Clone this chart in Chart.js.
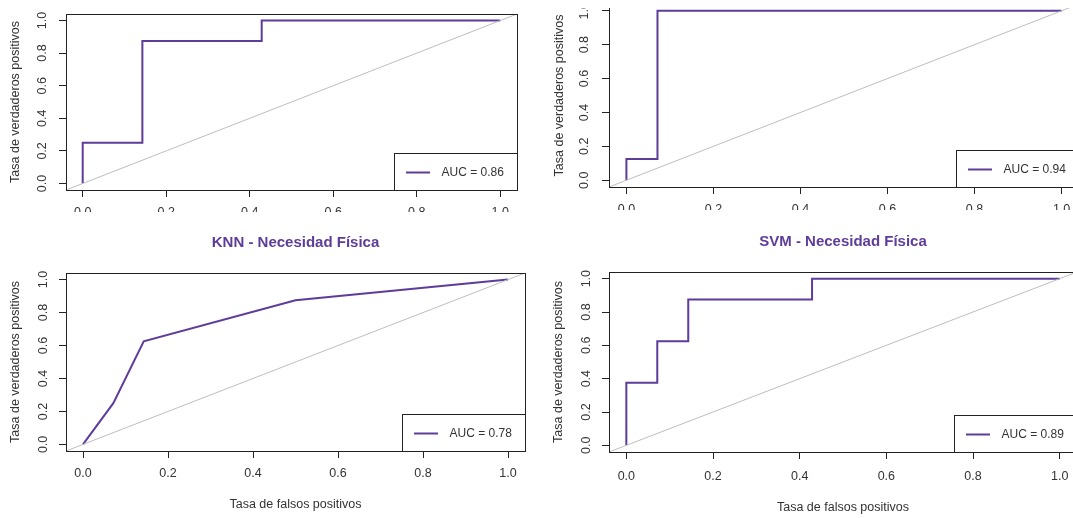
<!DOCTYPE html>
<html>
<head>
<meta charset="utf-8">
<script src="https://cdn.jsdelivr.net/npm/chart.js@4.4.1/dist/chart.umd.min.js"></script>
<style>
  html, body { margin: 0; padding: 0; background: #fff; }
  body { width: 1073px; height: 518px; position: relative; overflow: hidden; }
  .panel { position: absolute; overflow: hidden; }
  .panel canvas { position: absolute; }
</style>
</head>
<body>
<div class="panel"><canvas id="rocTL"></canvas></div>
<div class="panel"><canvas id="rocTR"></canvas></div>
<div class="panel"><canvas id="rocKNN"></canvas></div>
<div class="panel"><canvas id="rocSVM"></canvas></div>
<script>
// ROC curves (false positive rate / true positive rate)
const tlFpr = [0, 0, 0.1429, 0.1429, 0.4286, 0.4286, 1];
const tlTpr = [0, 0.25, 0.25, 0.875, 0.875, 1, 1];
const trFpr = [0, 0, 0.0714, 0.0714, 1];
const trTpr = [0, 0.125, 0.125, 1, 1];
const knnFpr = [0, 0.0714, 0.1429, 0.5, 1];
const knnTpr = [0, 0.25, 0.625, 0.875, 1];
const svmFpr = [0, 0, 0.0714, 0.0714, 0.1429, 0.1429, 0.4286, 0.4286, 1];
const svmTpr = [0, 0.375, 0.375, 0.625, 0.625, 0.875, 0.875, 1, 1];

// reference line y = x
const diagX = [-1, 2];
const diagY = [-1, 2];

const aucLabels = ['AUC = 0.86', 'AUC = 0.94', 'AUC = 0.78', 'AUC = 0.89'];
const tickValues = [0, 0.2, 0.4, 0.6, 0.8, 1];
const tickLabels = ['0.0', '0.2', '0.4', '0.6', '0.8', '1.0'];

const PURPLE = '#5E3C99';
const INK = '#222';
const TEXT = '#333';
const FONT = '"Liberation Sans", Arial, sans-serif';

Chart.defaults.font.family = FONT;
Chart.defaults.color = TEXT;

// plot frame + R-style legend box in the bottom right corner
const boxAndLegend = {
    id: 'boxAndLegend',
    afterDraw(chart, args, opts) {
        const { ctx, chartArea: a } = chart;
        const w = 123, h = 37;
        const lx = a.right - w, ly = a.bottom - h;
        ctx.save();
        ctx.fillStyle = '#fff';
        ctx.fillRect(lx, ly, w, h);
        ctx.lineWidth = 1;
        ctx.strokeStyle = INK;
        ctx.strokeRect(lx + 0.5, ly + 0.5, w, h);
        ctx.strokeRect(a.left + 0.5, a.top + 0.5, a.right - a.left, a.bottom - a.top);

        ctx.strokeStyle = PURPLE;
        ctx.lineWidth = 2;
        ctx.beginPath();
        ctx.moveTo(lx + 12, ly + 19.5);
        ctx.lineTo(lx + 36, ly + 19.5);
        ctx.stroke();

        ctx.fillStyle = TEXT;
        ctx.font = '12px ' + FONT;
        ctx.textBaseline = 'middle';
        ctx.fillText(opts.text, lx + 47.5, ly + 19.5);
        ctx.restore();
    }
};

function toPoints(xs, ys) {
    return xs.map((x, i) => ({ x: x, y: ys[i] }));
}

function rocPanel(id, g, fpr, tpr, auc) {
    const canvas = document.getElementById(id);
    const wrap = canvas.parentElement;
    wrap.style.left = g.clip[0] + 'px';
    wrap.style.top = g.clip[1] + 'px';
    wrap.style.width = g.clip[2] + 'px';
    wrap.style.height = g.clip[3] + 'px';

    const padRight = 15;
    canvas.width = g.box.R + padRight - g.x0;
    canvas.height = g.y1 - g.y0;
    canvas.style.left = (g.x0 - g.clip[0]) + 'px';
    canvas.style.top = (g.y0 - g.clip[1]) + 'px';

    let padTop = g.box.T - g.y0;
    let titleOpts = { display: false };
    if (g.title) {
        const tp = g.titleY - g.y0 - 9;
        titleOpts = {
            display: true,
            text: g.title,
            fullSize: false,
            color: PURPLE,
            font: { size: 15, weight: 'bold', lineHeight: 1.2 },
            padding: { top: tp, bottom: g.box.T - g.y0 - tp - 18 }
        };
        padTop = 0;
    }

    new Chart(canvas, {
        type: 'line',
        data: {
            datasets: [
                {
                    data: toPoints(diagX, diagY),
                    borderColor: '#BEBEBE',
                    borderWidth: 1,
                    pointRadius: 0
                },
                {
                    data: toPoints(fpr, tpr),
                    borderColor: PURPLE,
                    borderWidth: 2,
                    pointRadius: 0
                }
            ]
        },
        options: {
            responsive: false,
            animation: false,
            devicePixelRatio: 1,
            events: [],
            layout: {
                autoPadding: false,
                padding: { top: padTop, right: padRight, left: 0, bottom: 0 }
            },
            plugins: {
                legend: { display: false },
                tooltip: { enabled: false },
                title: titleOpts,
                boxAndLegend: { text: auc }
            },
            scales: {
                x: {
                    type: 'linear',
                    min: -0.04,
                    max: 1.04,
                    afterBuildTicks: s => { s.ticks = tickValues.map(v => ({ value: v })); },
                    afterFit: s => { s.height = g.y1 - g.box.B; },
                    grid: { drawOnChartArea: false, drawTicks: true, tickLength: 7, color: INK },
                    border: { display: false },
                    ticks: {
                        autoSkip: false,
                        maxRotation: 0,
                        padding: g.xTickPad,
                        font: { size: 12.5 },
                        color: TEXT,
                        callback: (v, i) => tickLabels[i]
                    },
                    title: {
                        display: !!g.xTitleY,
                        text: 'Tasa de falsos positivos',
                        font: { size: 12.5, lineHeight: 1.2 },
                        color: TEXT,
                        padding: { top: 0, bottom: g.xTitleY ? g.y1 - g.xTitleY - 7.5 : 0 }
                    }
                },
                y: {
                    type: 'linear',
                    min: -0.04,
                    max: 1.04,
                    afterBuildTicks: s => { s.ticks = tickValues.map(v => ({ value: v })); },
                    afterFit: s => { s.width = g.box.L - g.x0; },
                    grid: { drawOnChartArea: false, drawTicks: true, tickLength: 7, color: INK },
                    border: { display: false },
                    ticks: {
                        autoSkip: false,
                        minRotation: 90,
                        maxRotation: 90,
                        crossAlign: 'center',
                        padding: g.yTickPad,
                        font: { size: 12.5 },
                        color: TEXT,
                        callback: (v, i) => tickLabels[i]
                    },
                    title: {
                        display: true,
                        text: 'Tasa de verdaderos positivos',
                        font: { size: 12.5, lineHeight: 1.2 },
                        color: TEXT,
                        padding: { top: g.yTitlePad, bottom: 0 }
                    }
                }
            }
        },
        plugins: [boxAndLegend]
    });
}

rocPanel('rocTL', {
    clip: [0, 0, 538, 212], x0: 0, y0: -10, y1: 240,
    box: { L: 66, T: 14, R: 517, B: 190 },
    yTitlePad: 8.5, yTickPad: 7.3, xTickPad: 8.5
}, tlFpr, tlTpr, aucLabels[0]);

rocPanel('rocTR', {
    clip: [540, 8, 533, 202], x0: 540, y0: -20, y1: 240,
    box: { L: 609, T: 4, R: 1079, B: 187 },
    yTitlePad: 12.5, yTickPad: 8.6, xTickPad: 8.5
}, trFpr, trTpr, aucLabels[1]);

rocPanel('rocKNN', {
    clip: [0, 220, 538, 298], x0: 0, y0: 220, y1: 518,
    box: { L: 66, T: 273, R: 525, B: 451 },
    title: 'KNN - Necesidad Física', titleY: 242.7, xTitleY: 505,
    yTitlePad: 8.5, yTickPad: 6.3, xTickPad: 8.5
}, knnFpr, knnTpr, aucLabels[2]);

rocPanel('rocSVM', {
    clip: [540, 220, 533, 298], x0: 540, y0: 220, y1: 518,
    box: { L: 609, T: 272, R: 1077, B: 452 },
    title: 'SVM - Necesidad Física', titleY: 241.7, xTitleY: 507.3,
    yTitlePad: 11.5, yTickPad: 6.3, xTickPad: 10.2
}, svmFpr, svmTpr, aucLabels[3]);
</script>
</body>
</html>
